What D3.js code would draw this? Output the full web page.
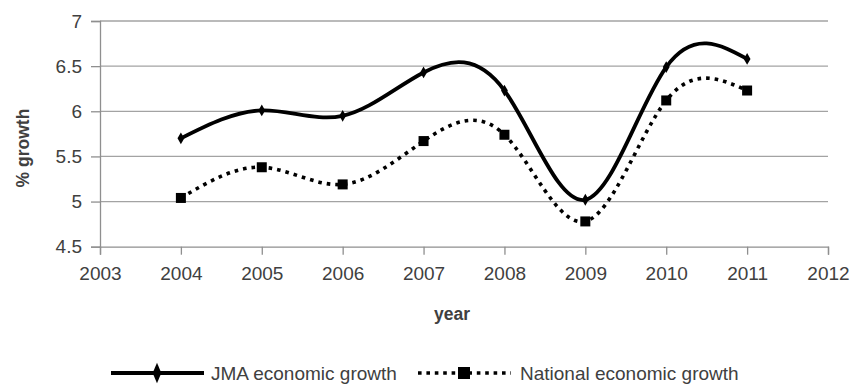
<!DOCTYPE html>
<html>
<head>
<meta charset="utf-8">
<script src="https://cdn.jsdelivr.net/npm/d3@7"></script>
<style>
  html, body { margin: 0; padding: 0; background: #fff; }
  svg { display: block; }
  text { font-family: "Liberation Sans", Arial, sans-serif; fill: #404040; }
</style>
</head>
<body>
<svg id="chart" width="853" height="385"></svg>
<script>
// Annual growth rates, 2004–2011
const years = [2004, 2005, 2006, 2007, 2008, 2009, 2010, 2011];
const jmaGrowth = [5.70, 6.01, 5.95, 6.43, 6.23, 5.02, 6.49, 6.58];
const nationalGrowth = [5.04, 5.38, 5.19, 5.67, 5.74, 4.78, 6.12, 6.23];

const xTicks = [2003, 2004, 2005, 2006, 2007, 2008, 2009, 2010, 2011, 2012];
const yTicks = [4.5, 5, 5.5, 6, 6.5, 7];

const seriesNames = ["JMA economic growth", "National economic growth"];

const svg = d3.select("#chart");

const x = d3.scaleLinear().domain([2003, 2012]).range([100, 828]);
const y = d3.scaleLinear().domain([4.5, 7]).range([246.7, 21]);

const gridColor = "#a3a3a3";
const axisColor = "#8f8f8f";

// Horizontal gridlines
svg.append("g")
  .selectAll("line")
  .data(yTicks.filter(v => v > 4.5))
  .join("line")
  .attr("x1", x(2003)).attr("x2", x(2012))
  .attr("y1", d => y(d)).attr("y2", d => y(d))
  .attr("stroke", gridColor).attr("stroke-width", 1.3);

// Y axis
const yAxis = svg.append("g")
  .attr("transform", `translate(${x(2003)},0)`)
  .call(d3.axisLeft(y).tickValues(yTicks).tickSize(9).tickPadding(9)
    .tickFormat(d => String(d)));
yAxis.select(".domain").attr("stroke", axisColor).attr("stroke-width", 1.3);
yAxis.selectAll(".tick line").attr("stroke", axisColor).attr("stroke-width", 1.3);
yAxis.selectAll(".tick text")
  .attr("fill", "#404040").attr("font-size", 19)
  .attr("font-family", "Liberation Sans, Arial, sans-serif");

// X axis
const xAxis = svg.append("g")
  .attr("transform", `translate(0,${y(4.5)})`)
  .call(d3.axisBottom(x).tickValues(xTicks).tickSize(8).tickPadding(12)
    .tickFormat(d3.format("d")));
xAxis.select(".domain").attr("stroke", axisColor).attr("stroke-width", 1.3);
xAxis.selectAll(".tick line").attr("stroke", axisColor).attr("stroke-width", 1.3);
xAxis.selectAll(".tick text")
  .attr("fill", "#404040").attr("font-size", 19)
  .attr("font-family", "Liberation Sans, Arial, sans-serif");

// Axis titles
svg.append("text")
  .attr("x", 452).attr("y", 320)
  .attr("text-anchor", "middle")
  .attr("font-size", 17.5).attr("font-weight", "bold")
  .text("year");

svg.append("text")
  .attr("transform", "translate(29,148) rotate(-90)")
  .attr("text-anchor", "middle")
  .attr("font-size", 17.5).attr("font-weight", "bold")
  .text("% growth");

// Smoothed series lines
const line = d3.line()
  .x((d, i) => x(years[i]))
  .y(d => y(d))
  .curve(d3.curveNatural);

svg.append("path")
  .datum(nationalGrowth)
  .attr("d", line)
  .attr("fill", "none").attr("stroke", "#000")
  .attr("stroke-width", 3.6)
  .attr("stroke-dasharray", "3.6 5");

svg.append("path")
  .datum(jmaGrowth)
  .attr("d", line)
  .attr("fill", "none").attr("stroke", "#000")
  .attr("stroke-width", 3.8)
  .attr("stroke-linejoin", "round");

// Markers
const diamond = d3.symbol().type(d3.symbolDiamond).size(40);
svg.append("g")
  .selectAll("path")
  .data(jmaGrowth)
  .join("path")
  .attr("transform", (d, i) => `translate(${x(years[i])},${y(d)})`)
  .attr("d", diamond)
  .attr("fill", "#000");

svg.append("g")
  .selectAll("rect")
  .data(nationalGrowth)
  .join("rect")
  .attr("x", (d, i) => x(years[i]) - 5)
  .attr("y", d => y(d) - 5)
  .attr("width", 10).attr("height", 10)
  .attr("fill", "#000");

// Legend
const legend = svg.append("g");
const legendY = 373;

legend.append("line")
  .attr("x1", 111).attr("x2", 204)
  .attr("y1", legendY).attr("y2", legendY)
  .attr("stroke", "#000").attr("stroke-width", 3.8);
legend.append("path")
  .attr("transform", `translate(157,${legendY}) scale(0.85,1.15)`)
  .attr("d", d3.symbol().type(d3.symbolDiamond).size(90))
  .attr("fill", "#000");
legend.append("text")
  .attr("x", 211).attr("y", legendY + 6.5)
  .attr("font-size", 19)
  .text(seriesNames[0]);

legend.append("line")
  .attr("x1", 418).attr("x2", 511)
  .attr("y1", legendY).attr("y2", legendY)
  .attr("stroke", "#000").attr("stroke-width", 3.6)
  .attr("stroke-dasharray", "3.6 4.8");
legend.append("rect")
  .attr("x", 458).attr("y", legendY - 6)
  .attr("width", 12).attr("height", 12)
  .attr("fill", "#000");
legend.append("text")
  .attr("x", 520).attr("y", legendY + 6.5)
  .attr("font-size", 19)
  .text(seriesNames[1]);
</script>
</body>
</html>
